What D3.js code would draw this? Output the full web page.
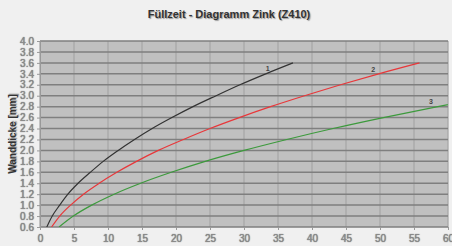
<!DOCTYPE html>
<html>
<head>
<meta charset="utf-8">
<script src="https://cdn.jsdelivr.net/npm/d3@7"></script>
<style>
  body { margin: 0; background: #f0f0f0; }
  text { font-family: "Liberation Sans", Arial, sans-serif; }
  .tick text { fill: #8c8c8c; text-shadow: 0 0 1px #444; }
</style>
</head>
<body>
<script>
(() => {
    // wall thickness [mm] and fill time, per curve
    const thickness = [0.6, 0.8, 1.0, 1.2, 1.4, 1.6, 1.8, 2.0, 2.2, 2.4, 2.6, 2.8, 3.0, 3.2, 3.4, 3.6]
    const time1 = [1.0, 1.8, 2.9, 4.1, 5.6, 7.4, 9.3, 11.5, 13.9, 16.5, 19.4, 22.5, 25.9, 29.4, 33.2, 37.2]
    const time2 = [1.7, 2.9, 4.5, 6.4, 8.7, 11.3, 14.2, 17.4, 21.1, 25.0, 29.3, 33.9, 38.9, 44.2, 49.8, 55.8]
    const time3 = [2.8, 4.9, 7.6, 10.9, 14.8, 19.3, 24.3, 30.0, 36.3, 43.1, 50.5, 58.5, 67.0]
    const curveNames = ["1", "2", "3"]
    const curveColors = ["#333333", "#e8373a", "#3c9a3c"]
    const xTicks = d3.range(0, 61, 5)
    const yTicks = d3.range(0.6, 4.01, 0.2)

    const width = 452
    const height = 246
    const margin = { left: 40, right: 4, top: 41, bottom: 19 }

    const svg = d3.select("body")
        .append("svg")
        .attr("width", width)
        .attr("height", height)

    const x = d3.scaleLinear().domain([0, 60]).range([margin.left, width - margin.right])
    const y = d3.scaleLinear().domain([0.6, 4.0]).range([height - margin.bottom, margin.top])

    svg.append("text")
        .attr("x", 229)
        .attr("y", 18)
        .attr("text-anchor", "middle")
        .attr("font-size", 11)
        .attr("font-weight", "bold")
        .attr("fill", "#333")
        .style("text-shadow", "1px 1px 1px #999")
        .text("Füllzeit - Diagramm Zink (Z410)")

    svg.append("rect")
        .attr("x", x(0))
        .attr("y", y(4.0))
        .attr("width", x(60) - x(0))
        .attr("height", y(0.6) - y(4.0))
        .attr("fill", "#c0c0c0")

    svg.append("g")
        .selectAll("line")
        .data(xTicks)
        .join("line")
        .attr("x1", (d) => x(d))
        .attr("x2", (d) => x(d))
        .attr("y1", y(4.0))
        .attr("y2", y(0.6))
        .attr("stroke", "#a8a8a8")
        .attr("stroke-width", 1.3)

    svg.append("g")
        .selectAll("line")
        .data(yTicks)
        .join("line")
        .attr("x1", x(0))
        .attr("x2", x(60))
        .attr("y1", (d) => y(d))
        .attr("y2", (d) => y(d))
        .attr("stroke", "#7f7f7f")
        .attr("stroke-width", 1.5)

    const yAxis = svg.append("g")
        .attr("transform", `translate(${x(0)},0)`)
        .call(d3.axisLeft(y).tickValues(yTicks).tickFormat(d3.format(".1f")).tickSize(3).tickPadding(3))
    yAxis.select(".domain").attr("stroke", "#999")
    yAxis.selectAll(".tick line").attr("stroke", "#999")
    yAxis.selectAll(".tick text").attr("font-size", 10)

    const xAxis = svg.append("g")
        .attr("transform", `translate(0,${y(0.6)})`)
        .call(d3.axisBottom(x).tickValues(xTicks).tickSize(3).tickPadding(5))
    xAxis.select(".domain").remove()
    xAxis.selectAll(".tick line").attr("stroke", "#999")
    xAxis.selectAll(".tick text").attr("font-size", 10)

    svg.append("text")
        .attr("transform", `translate(15.5,${(y(4.0) + y(0.6)) / 2}) rotate(-90)`)
        .attr("text-anchor", "middle")
        .attr("font-size", 10)
        .attr("font-weight", "bold")
        .attr("fill", "#333")
        .style("text-shadow", "1px 1px 1px #999")
        .text("Wanddicke [mm]")

    svg.append("clipPath")
        .attr("id", "plot")
        .append("rect")
        .attr("x", x(0))
        .attr("y", y(4.0))
        .attr("width", x(60) - x(0))
        .attr("height", y(0.6) - y(4.0))

    const series = [time1, time2, time3].map((times) =>
        times.map((t, i) => ({ t: t, s: thickness[i] })))

    const line = d3.line()
        .x((d) => x(d.t))
        .y((d) => y(d.s))
        .curve(d3.curveMonotoneX)

    svg.append("g")
        .attr("clip-path", "url(#plot)")
        .selectAll("path")
        .data(series)
        .join("path")
        .attr("fill", "none")
        .attr("stroke", (_, i) => curveColors[i])
        .attr("stroke-width", 1.2)
        .attr("d", line)

    // curve numbers near the upper end of each curve
    const labelAt = [[33.5, 3.45], [49, 3.43], [57.5, 2.85]]
    svg.append("g")
        .selectAll("text")
        .data(curveNames)
        .join("text")
        .attr("x", (_, i) => x(labelAt[i][0]))
        .attr("y", (_, i) => y(labelAt[i][1]))
        .attr("text-anchor", "middle")
        .attr("font-size", 7)
        .attr("font-weight", "bold")
        .attr("fill", "#444")
        .text((d) => d)
})()
</script>
</body>
</html>
